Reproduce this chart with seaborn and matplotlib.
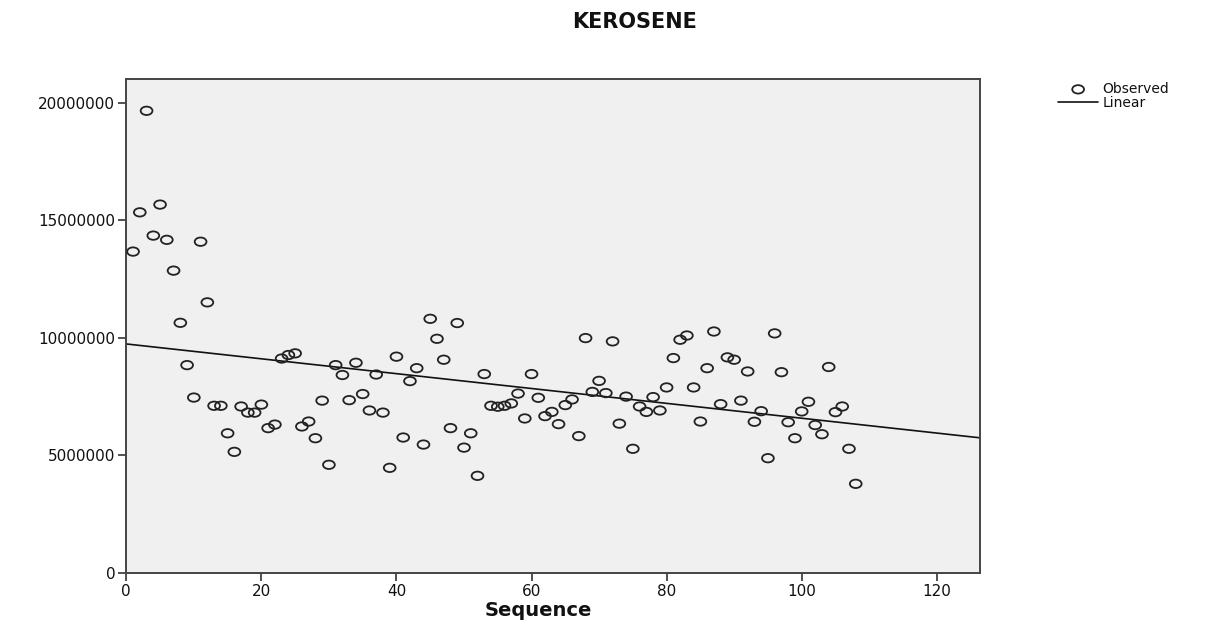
import numpy as np
import pandas as pd
import matplotlib
matplotlib.use("Agg")
import matplotlib.pyplot as plt
from matplotlib.path import Path
from matplotlib.transforms import Affine2D
from matplotlib import ticker
import seaborn as sns

# ---- data ----
sequence = list(range(1, 109))
kerosene = [
    13.67, 15.34, 19.66, 14.35, 15.67, 14.17, 12.86, 10.64, 8.84, 7.46,
    14.09, 11.51, 7.11, 7.11, 5.94, 5.15, 7.08, 6.82, 6.82, 7.16,
    6.16, 6.31, 9.12, 9.27, 9.34, 6.23, 6.44, 5.73, 7.33, 4.60,
    8.84, 8.42, 7.35, 8.94, 7.61, 6.91, 8.44, 6.82, 4.47, 9.20,
    5.76, 8.16, 8.71, 5.46, 10.81, 9.96, 9.07, 6.16, 10.63, 5.33,
    5.94, 4.13, 8.46, 7.11, 7.07, 7.11, 7.21, 7.63, 6.57, 8.46,
    7.45, 6.67, 6.85, 6.33, 7.14, 7.38, 5.82, 9.99, 7.70, 8.17,
    7.65, 9.85, 6.35, 7.50, 5.28, 7.08, 6.85, 7.48, 6.91, 7.89,
    9.14, 9.92, 10.10, 7.89, 6.44, 8.71, 10.27, 7.18, 9.17, 9.07,
    7.33, 8.57, 6.43, 6.88, 4.88, 10.19, 8.54, 6.41, 5.73, 6.87,
    7.28, 6.29, 5.90, 8.76, 6.84, 7.08, 5.28, 3.79,
]
kerosene = [v * 1e6 for v in kerosene]
title = "KEROSENE"
x_label = "Sequence"
series_labels = ["Observed", "Linear"]
y_ticks = [0, 5000000, 10000000, 15000000, 20000000]
x_ticks = [0, 20, 40, 60, 80, 100, 120]

df = pd.DataFrame({"Sequence": sequence, "Value": kerosene})

sns.set_style("white")
plt.rcParams["font.family"] = ["DejaVu Sans"]

W, H = 1214, 637
fig = plt.figure(figsize=(W / 100, H / 100), dpi=100)
ax = fig.add_axes([126.3 / W, 1 - 572.9 / H, (980 - 126.3) / W, (572.9 - 79.3) / H])
ax.set_facecolor("#F0F0F0")
ax.set_xlim(0, 126.4)
ax.set_ylim(0, 21.0e6)

# horizontally stretched open-circle marker (as in the reference)
ell = Path.unit_circle().transformed(Affine2D().scale(1.4, 1.0))

sns.regplot(
    data=df, x="Sequence", y="Value", ax=ax, ci=None, truncate=False,
    color="black", marker=ell, label=series_labels[0],
    scatter_kws=dict(facecolors="none", edgecolors="#222222", linewidths=1.3,
                     s=72, alpha=1, zorder=3),
    line_kws=dict(color="#111111", linewidth=1.2, label=series_labels[1], zorder=2),
)
ax.set_xlim(0, 126.4)
ax.set_ylim(0, 21.0e6)

ax.set_xticks(x_ticks)
ax.set_yticks(y_ticks)
ax.yaxis.set_major_formatter(ticker.FuncFormatter(lambda v, p: f"{v:.0f}"))
ax.tick_params(axis="both", which="both", direction="out", length=6, width=1.2,
               color="#333333", labelsize=11, labelcolor="#111111", pad=2,
               left=True, bottom=True, right=False, top=False)
for s in ax.spines.values():
    s.set_color("#444444")
    s.set_linewidth(1.4)

ax.set_ylabel("")
ax.set_xlabel(x_label, fontsize=14, fontweight="bold", color="#111111")
ax.xaxis.set_label_coords((538 - 126.3) / (980 - 126.3), (572.9 - 601) / (572.9 - 79.3))

fig.text(635 / W, 1 - 22 / H, title, ha="center", va="center",
         fontsize=15, fontweight="bold", color="#111111")

handles, labels = ax.get_legend_handles_labels()
order = [labels.index(l) for l in series_labels if l in labels]
fig.legend([handles[i] for i in order], [labels[i] for i in order],
           loc="upper left", bbox_to_anchor=(1058 / W, 1 - 82 / H),
           frameon=False, fontsize=10, labelspacing=0.0, handlelength=2.9,
           handletextpad=0.3, borderpad=0, borderaxespad=0, labelcolor="#111111",
           scatterpoints=1)

fig.savefig("out.png", dpi=100)
